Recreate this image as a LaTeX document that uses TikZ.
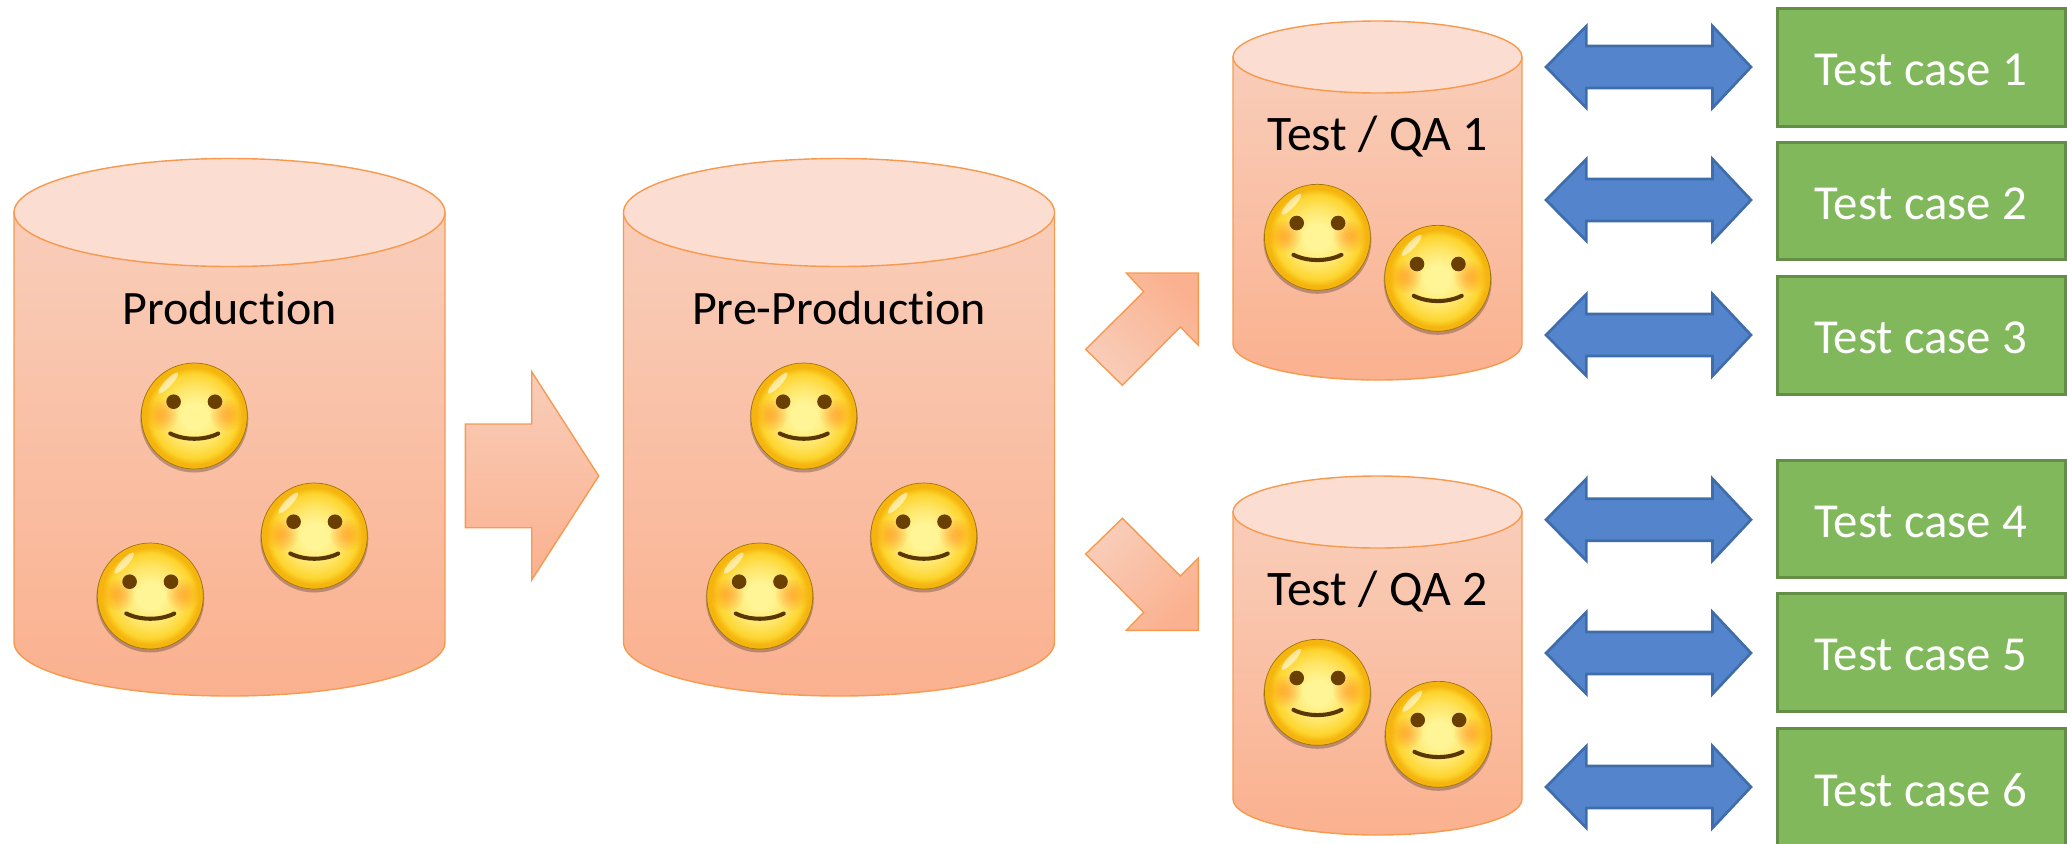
\documentclass[tikz,border=0pt]{standalone}
\usepackage{xcolor}
\usepackage{fontspec}
\setmainfont[Ligatures=NoCommon]{Carlito}

\definecolor{dbline}{HTML}{F7994E}
\definecolor{dbtop}{HTML}{FCDDD1}
\definecolor{dbupper}{HTML}{F9CDB9}
\definecolor{dblower}{HTML}{FAB18F}
\definecolor{arrowfill}{HTML}{5384CC}
\definecolor{arrowline}{HTML}{3F6DAA}
\definecolor{casefill}{HTML}{82B85C}
\definecolor{caseline}{HTML}{628F45}
\definecolor{faceA}{HTML}{FFF596}
\definecolor{faceB}{HTML}{FFE566}
\definecolor{faceC}{HTML}{FDD52F}
\definecolor{faceD}{HTML}{F5B40E}
\definecolor{eyecol}{HTML}{693F02}

\pgfdeclareradialshading{smileyface}{\pgfpoint{0bp}{0bp}}{%
  color(0bp)=(faceA); color(6bp)=(faceA); color(14bp)=(faceB);
  color(20bp)=(faceC); color(23bp)=(faceD); color(25bp)=(faceD); color(50bp)=(faceD)}

\tikzset{
  dbbody/.style={draw=dbline, line width=0.8pt, top color=dbupper, bottom color=dblower},
  dbcap/.style={draw=dbline, line width=0.8pt, fill=dbtop},
  dblabel/.style={anchor=base, inner sep=0pt, font=\fontsize{27.3}{32}\selectfont},
  qalabel/.style={dblabel, font=\fontsize{28.3}{32}\selectfont},
  caselabel/.style={dblabel, text=white, font=\fontsize{27.8}{32}\selectfont},
  casebox/.style={draw=caseline, line width=1.7pt, fill=casefill},
  bothway/.style={draw=arrowline, line width=1.5pt, fill=arrowfill, line join=miter},
}

% cx, top y, rx, ry, bottom y
\newcommand{\dbcyl}[5]{
  \draw[dbbody] (#1-#3,#2) -- (#1-#3,#5) arc[start angle=180, end angle=0, x radius=#3, y radius=#4] -- (#1+#3,#2) -- cycle;
  \draw[dbcap] (#1,#2) ellipse [x radius=#3, y radius=#4];
}

\newcommand{\smiley}[2]{
  \begin{scope}[shift={(#1,#2)}]
    \fill[black, opacity=0.25] (0,2.5) circle [radius=54];
    \draw[draw=black!35!faceD, line width=0.4pt, shading=smileyface] (0,0) circle [radius=53];
    % blush, built up in rings
    \foreach \r in {4,6,8,10,12,14,16} {
        \fill[orange!80!red, opacity=0.06] (-32,-1) circle [radius=\r];
        \fill[orange!80!red, opacity=0.06] (32,-1) circle [radius=\r];
    }
    % eyes and mouth
    \fill[eyecol] (-20.7,-14.3) circle [radius=7.3];
    \fill[eyecol] (20.7,-14.3) circle [radius=7.3];
    \draw[eyecol!85!black, line width=2.3pt, line cap=round] (-24,17.5) .. controls (-10,24.5) and (10,24.5) .. (24,17.5);
    % shine
    \fill[white, opacity=0.55, rotate around={47:(-26,-33)}] (-26,-33) ellipse [x radius=14, y radius=3.5];
  \end{scope}
}

\begin{document}
\begin{tikzpicture}[x=0.02cm, y=-0.02cm]
    \clip (0,0) rectangle (2067,843);

    % the two large databases
    \dbcyl{229.5}{212.5}{215.5}{54}{642}
    \dbcyl{839}{212.5}{215.5}{54}{642}
    \node[dblabel] (production) at (229.5,324) {Production};
    \node[dblabel] (preproduction) at (839,324) {Pre-Production};

    \foreach \dx in {0,609.5} {
        \smiley{194.3+\dx}{416}
        \smiley{314.3+\dx}{536}
        \smiley{150.3+\dx}{596}
    }

    % the two small databases
    \dbcyl{1377.5}{57}{144.5}{36}{344}
    \dbcyl{1377.5}{512}{144.5}{36}{799}
    \node[qalabel] (qaone) at (1377.5,150) {Test / QA 1};
    \node[qalabel] (qatwo) at (1377.5,605) {Test / QA 2};

    \smiley{1317.4}{237.3}
    \smiley{1437.7}{278.3}
    \smiley{1317.4}{692.3}
    \smiley{1438.4}{734.3}

    % orange block arrows
    \draw[dbbody] (465.3,424) -- (531.7,424) -- (531.7,371.7) -- (598.7,476) -- (531.7,580) -- (531.7,527.7) -- (465.3,527.7) -- cycle;
    \draw[dbbody, top color=dbupper, bottom color=dblower, shading angle=135]
        (1198.4,273) -- (1126.3,273) -- (1143.7,291.7) -- (1085.7,349.3) -- (1122.4,385.3) -- (1180.3,327) -- (1198.4,345.3) -- cycle;
    \draw[dbbody, top color=dbupper, bottom color=dblower, shading angle=45]
        (1198.4,630.3) -- (1126.3,630.3) -- (1143.7,612.3) -- (1085.7,554) -- (1122.4,518.3) -- (1180.3,576) -- (1198.4,558) -- cycle;

    % test cases: box top, box bottom, arrow middle, text baseline
    \foreach \n/\ya/\yb/\ym/\yt in {1/8/126/67/85.7, 2/142/259/200/219.3, 3/276/394/335/353.3,
                                    4/460/577/519.7/537.7, 5/593/711/653/670.7, 6/728/860/787/806} {
        \draw[bothway] (1546,\ym) -- (1586.4,\ym-41) -- (1586.4,\ym-21) -- (1712.5,\ym-21) -- (1712.5,\ym-41)
            -- (1751,\ym) -- (1712.5,\ym+41) -- (1712.5,\ym+21) -- (1586.4,\ym+21) -- (1586.4,\ym+41) -- cycle;
        \draw[casebox] (1777,\ya) rectangle (2065,\yb);
        \node[caselabel] (case\n) at (1920.6,\yt) {Test case \n};
    }
\end{tikzpicture}
\end{document}
